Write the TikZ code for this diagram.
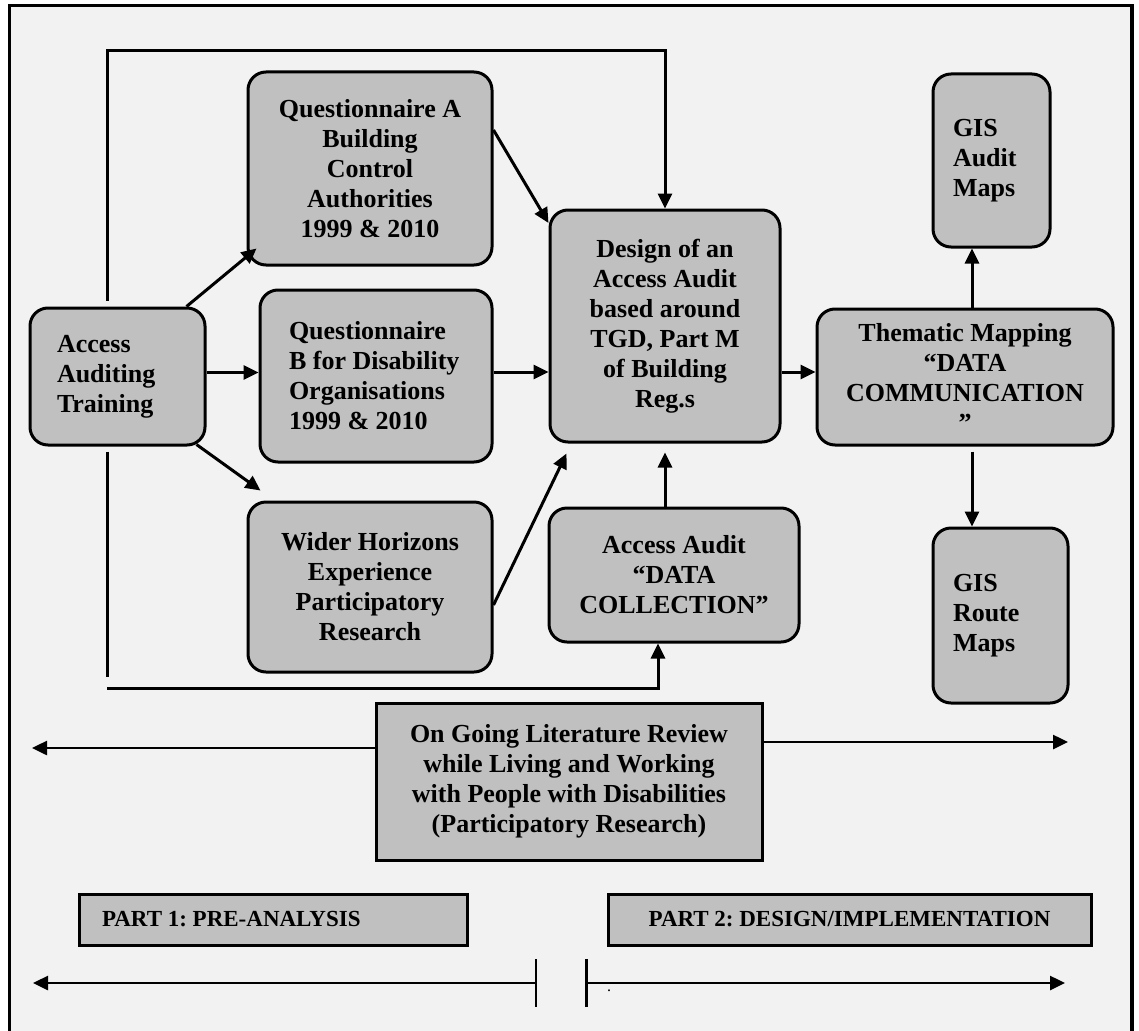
\documentclass[tikz,border=0pt]{standalone}
\usepackage{fontspec}
\setmainfont{Liberation Serif}
\usetikzlibrary{arrows.meta}
\definecolor{boxgray}{RGB}{192,192,192}
\definecolor{bggray}{RGB}{242,242,242}
\frenchspacing
\tikzset{
  stage/.style={draw, line width=3pt, fill=boxgray, rounded corners=18pt,
    inner sep=0pt, align=center, font=\bfseries\fontsize{26}{30}\selectfont},
  plainbox/.style={stage, rounded corners=0pt},
  flow/.style={line width=3pt, -{Triangle[length=15pt,width=14pt]}},
  timeline/.style={line width=2.5pt, {Bar[width=48pt]}-{Triangle[length=15pt,width=14pt]}}
}
\begin{document}
\begin{tikzpicture}[x=1pt,y=-1pt]
  \clip (0,0) rectangle (1139,1030);
  \fill[white] (0,0) rectangle (1139,1030);
  \draw[line width=3.5pt, fill=bggray] (9.5,5.5) rectangle (1132,1050);

  \node[stage, minimum width=175pt, minimum height=137pt, text width=121pt, align=flush left]
    (acc) at (117.5,376.5) {Access\\Auditing\\Training};
  \node[stage, minimum width=244pt, minimum height=193pt]
    (qa) at (370,168.5) {Questionnaire A\\Building\\Control\\Authorities\\1999 \& 2010};
  \node[stage, minimum width=232pt, minimum height=172pt, text width=174pt, align=flush left]
    (qb) at (376,376) {Questionnaire\\B for Disability\\Organisations\\1999 \& 2010};
  \node[stage, minimum width=244pt, minimum height=170pt]
    (wider) at (370,587) {Wider Horizons\\Experience\\Participatory\\Research};
  \node[stage, minimum width=230pt, minimum height=232pt]
    (design) at (665,326) {Design of an\\Access Audit\\based around\\TGD, Part M\\of Building\\Reg.s};
  \node[stage, minimum width=250pt, minimum height=134pt]
    (collect) at (674,575) {Access Audit\\“DATA\\COLLECTION”};
  \node[stage, minimum width=296pt, minimum height=136pt]
    (theme) at (965,377) {Thematic Mapping\\“DATA\\COMMUNICATION\\”};
  \node[stage, minimum width=117pt, minimum height=173pt, text width=77pt, align=flush left]
    (gisa) at (991.5,160.5) {GIS\\Audit\\Maps};
  \node[stage, minimum width=135pt, minimum height=175pt, text width=95pt, align=flush left]
    (gisr) at (1000.5,615.5) {GIS\\Route\\Maps};
  \node[plainbox, minimum width=386pt, minimum height=157pt]
    (lit) at (569,781.5) {On Going Literature Review\\while Living and Working\\with People with Disabilities\\(Participatory Research)};
  \node[plainbox, minimum width=388pt, minimum height=51pt, text width=342pt, align=flush left,
    font=\bfseries\fontsize{23}{27}\selectfont]
    (part1) at (273,919.5) {PART 1: PRE-ANALYSIS};
  \node[plainbox, minimum width=483pt, minimum height=51pt,
    font=\bfseries\fontsize{23}{27}\selectfont]
    (part2) at (849.5,919.5) {PART 2: DESIGN/IMPLEMENTATION};
  \node[inner sep=0pt, font=\fontsize{16}{16}\selectfont] (dot) at (609,991) {.};

  \draw[flow] ([xshift=-20pt]acc.north east) -- ([xshift=10pt,yshift=18pt]qa.south west);
  \draw[flow] ([yshift=4pt]acc.east) -- ([yshift=4pt]acc.east -| qb.west);
  \draw[flow] ([xshift=-10pt,yshift=2pt]acc.south east) -- ([xshift=14pt,yshift=10pt]wider.north west);
  \draw[flow] ([yshift=38.5pt]qa.east) -- ([yshift=103pt]design.west);
  \draw[flow] ([yshift=4pt]qb.east) -- ([yshift=4pt]qb.east -| design.west);
  \draw[flow] ([yshift=-18pt]wider.east) -- ([xshift=18pt,yshift=-10pt]design.south west);
  \draw[flow, shorten >=9pt] (design.south |- collect.north) -- (design.south);
  \draw[flow] ([yshift=5pt]theme.west -| design.east) -- ([yshift=5pt]theme.west);
  \draw[flow] ([xshift=7pt]theme.north) -- ([xshift=7pt]theme.north |- gisa.south);
  \draw[flow] ([xshift=7pt,yshift=-5pt]theme.south) -- ([xshift=7pt]theme.south |- gisr.north);

  \draw[flow] ([xshift=-10.5pt,yshift=6pt]acc.north) -- ++(0,-250) -| (design.north);
  \coordinate (loopend) at (107,688);
  \draw[line width=3pt] ([xshift=-10.5pt,yshift=-5pt]acc.south) -- ([yshift=11pt]loopend);
  \draw[flow] (loopend) -| ([xshift=-16pt]collect.south);

  \coordinate (litleft) at (32,748);
  \coordinate (litright) at (1068,742);
  \draw[flow, line width=2.5pt] ([yshift=33.5pt]lit.west) -- (litleft);
  \draw[flow, line width=2.5pt] ([yshift=39.5pt]lit.east) -- (litright);

  \coordinate (tlleft) at (33,983);
  \coordinate (tlbreakl) at (537,983);
  \coordinate (tlbreakr) at (585,983);
  \coordinate (tlright) at (1065,983);
  \draw[timeline] (tlbreakl) -- (tlleft);
  \draw[timeline] (tlbreakr) -- (tlright);
\end{tikzpicture}
\end{document}
